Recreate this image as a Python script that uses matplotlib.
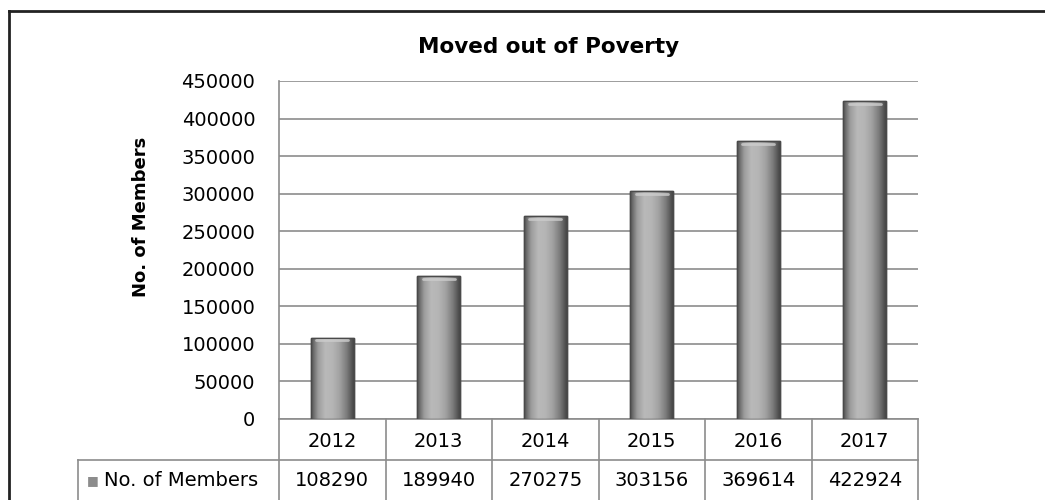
import numpy as np
import matplotlib
matplotlib.use("Agg")
import matplotlib.pyplot as plt
from matplotlib.transforms import blended_transform_factory
from matplotlib.colors import LinearSegmentedColormap

years = ["2012", "2013", "2014", "2015", "2016", "2017"]
members = [108290, 189940, 270275, 303156, 369614, 422924]
series_name = "No. of Members"
title = "Moved out of Poverty"

plt.rcParams['font.family'] = ['DejaVu Sans']
fs = 14

fig = plt.figure(figsize=(10.45, 5.0), dpi=100)
ax = fig.add_axes([0.267, 0.162, 0.6115, 0.676])

x = np.arange(len(years))
bars = ax.bar(x, members, width=0.4, color="#a5a5a5", edgecolor="#4a4a4a", linewidth=1.0, zorder=3)

# shaded look on each bar (dark edges, lighter middle)
cmap = LinearSegmentedColormap.from_list(
    "bar", ["#505050", "#9c9c9c", "#b9b9b9", "#b5b5b5", "#a2a2a2", "#7c7c7c", "#454545"])
grad = np.linspace(0, 1, 256).reshape(1, -1)
for b in bars:
    bx, by = b.get_x(), b.get_y()
    w, h = b.get_width(), b.get_height()
    im = ax.imshow(grad, cmap=cmap, extent=[bx, bx + w, by, by + h], aspect="auto", zorder=4,
                   interpolation="bicubic")
    im.set_clip_path(b)
    ax.bar(b.get_x() + w / 2, h, width=w, fill=False, edgecolor="#4a4a4a", linewidth=1.0, zorder=5)
    ax.plot([bx + w * 0.12, bx + w * 0.88], [by + h - 3500, by + h - 3500], color="#cdcdcd", lw=2,
            zorder=5, solid_capstyle="round", alpha=0.8)

ax.set_xlim(-0.5, len(years) - 0.5)
ax.set_ylim(0, 450000)
ax.set_yticks(np.arange(0, 450001, 50000))
ax.yaxis.grid(True, color="#8c8c8c", linewidth=1.2, zorder=0)
ax.set_axisbelow(True)
ax.set_xticks([])
ax.tick_params(axis="y", length=0, labelsize=fs, pad=17)
for s in ["top", "right", "bottom"]:
    ax.spines[s].set_visible(False)
ax.spines["left"].set_color("#8c8c8c")
ax.spines["left"].set_linewidth(1.2)

fig.text(0.525, 0.906, title, fontsize=15.5, fontweight="bold", ha="center", va="center")
fig.text(0.135, 0.566, series_name, fontsize=13, fontweight="bold", rotation=90, ha="center", va="center")

# data table under the plot
tr = blended_transform_factory(ax.transData, ax.transAxes)
lc = "#8c8c8c"
row1 = -0.121
row2 = -0.245
label_left = -0.3146
ax.plot([-0.5, len(years) - 0.5], [0, 0], transform=tr, color=lc, lw=1.2, clip_on=False)
ax.plot([label_left, 1], [row1, row1], transform=ax.transAxes, color=lc, lw=1.2, clip_on=False)
ax.plot([label_left, label_left], [row1, row2], transform=ax.transAxes, color=lc, lw=1.2, clip_on=False)
for i in range(len(years) + 1):
    ax.plot([i - 0.5, i - 0.5], [0, row2], transform=tr, color=lc, lw=1.2, clip_on=False)
for i, (yr, v) in enumerate(zip(years, members)):
    ax.text(i, row1 / 2 - 0.005, yr, transform=tr, ha="center", va="center", fontsize=fs)
    ax.text(i, (row1 + row2) / 2, str(v), transform=tr, ha="center", va="center", fontsize=fs)
ax.text(label_left + 0.014, (row1 + row2) / 2, "\u25a0", transform=ax.transAxes, ha="left", va="center",
        fontsize=9, color="#8c8c8c")
ax.text(label_left + 0.040, (row1 + row2) / 2, series_name, transform=ax.transAxes, ha="left", va="center",
        fontsize=fs)

# outer frame of the chart
fig.add_artist(plt.Line2D([0.009, 0.009], [0.0, 0.978], color="#222222", lw=2))
fig.add_artist(plt.Line2D([0.009, 1.0], [0.978, 0.978], color="#222222", lw=2))

fig.savefig("out.png", dpi=100)
